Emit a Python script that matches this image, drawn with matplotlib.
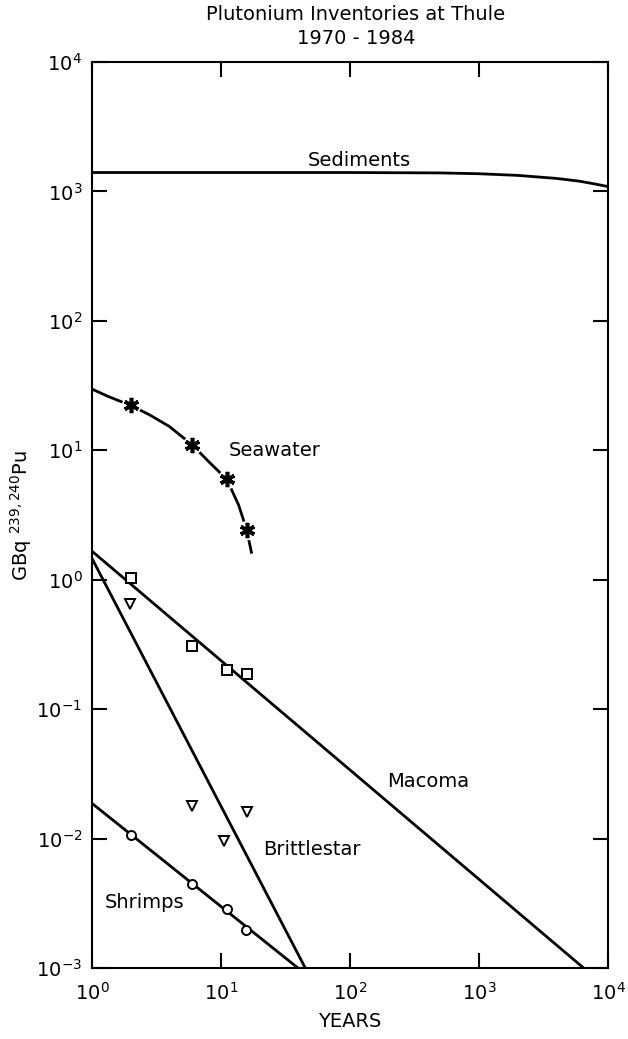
import matplotlib
matplotlib.use("Agg")
import matplotlib.pyplot as plt
import numpy as np

# ---- data ----
sed_x = [1, 100, 500, 1000, 2000, 4000, 6000, 8000, 10000]
sed_y = [1400, 1400, 1390, 1370, 1330, 1260, 1200, 1140, 1090]

sea_curve_x = [1, 1.33, 2.0, 2.79, 3.97, 5.99, 8.0, 11.1, 13.7, 15.8, 17.3]
sea_curve_y = [29.7, 26.1, 22.2, 18.8, 15.3, 11.0, 8.2, 5.96, 3.77, 2.44, 1.59]
sea_pts_x = [2.0, 5.99, 11.1, 15.8]
sea_pts_y = [22.2, 11.0, 5.96, 2.44]

macoma_pts_x = [1.99, 5.93, 11.1, 15.9]
macoma_pts_y = [1.04, 0.306, 0.20, 0.187]
macoma_line_x = [1, 6470]
macoma_line_y = [1.66, 1e-3]

brittle_pts_x = [1.96, 5.93, 10.6, 15.8]
brittle_pts_y = [0.65, 0.0178, 0.00953, 0.0161]
brittle_line_x = [1, 45]
brittle_line_y = [1.46, 1e-3]

shrimp_pts_x = [1.99, 5.93, 11.1, 15.7]
shrimp_pts_y = [0.01074, 0.00445, 0.00287, 0.00195]
shrimp_line_x = [1, 39.5]
shrimp_line_y = [0.0187, 1e-3]

title_lines = ["Plutonium Inventories at Thule", "1970 - 1984"]
xlabel = "YEARS"
ylabel = r"GBq $^{239,240}$Pu"

# ---- figure ----
plt.rcParams['font.family'] = ['DejaVu Sans']
plt.rcParams['mathtext.fontset'] = 'dejavusans'
fig = plt.figure(figsize=(6.28, 10.39), dpi=100)
ax = fig.add_axes([92/628, 1-968/1039, (608-92)/628, (968-62)/1039])
ax.set_xscale('log')
ax.set_yscale('log')
ax.set_xlim(1, 1e4)
ax.set_ylim(1e-3, 1e4)

lw = 2.0
ax.plot(sed_x, sed_y, color='black', lw=lw, zorder=2)
ax.plot(sea_curve_x, sea_curve_y, color='black', lw=lw, zorder=2,
        solid_capstyle='butt')
# white halo to break the line around the stars
ax.plot(sea_pts_x, sea_pts_y, ls='none', marker='o', ms=14, mfc='white',
        mec='none', zorder=3)
ax.plot(sea_pts_x, sea_pts_y, ls='none', marker=(6, 2, 0), ms=11, color='black',
        mew=2.6, zorder=4)
ax.plot(macoma_line_x, macoma_line_y, color='black', lw=lw, zorder=2)
ax.plot(macoma_pts_x, macoma_pts_y, ls='none', marker='s', ms=6.5,
        mfc='white', mec='black', mew=1.4, zorder=4)
ax.plot(brittle_line_x, brittle_line_y, color='black', lw=lw, zorder=2)
ax.plot(brittle_pts_x, brittle_pts_y, ls='none', marker='v', ms=7.5,
        mfc='white', mec='black', mew=1.4, zorder=4)
ax.plot(shrimp_line_x, shrimp_line_y, color='black', lw=lw, zorder=2)
ax.plot(shrimp_pts_x, shrimp_pts_y, ls='none', marker='o', ms=6.5,
        mfc='white', mec='black', mew=1.4, zorder=4)

fs = 14
ax.text(118, 1740, "Sediments", fontsize=fs, ha='center', va='center')
ax.text(11.4, 10, "Seawater", fontsize=fs, ha='left', va='center')
ax.text(194, 0.0278, "Macoma", fontsize=fs, ha='left', va='center')
ax.text(21.3, 0.0082, "Brittlestar", fontsize=fs, ha='left', va='center')
ax.text(1.26, 0.00318, "Shrimps", fontsize=fs, ha='left', va='center')

ax.minorticks_off()
ax.set_xticks([1, 10, 100, 1000, 10000])
ax.set_yticks([1e-3, 1e-2, 1e-1, 1, 10, 100, 1e3, 1e4])
ax.tick_params(which='major', direction='in', length=11, width=1.5,
               top=True, right=True, labelsize=14)
ax.tick_params(axis='x', pad=10)
ax.tick_params(axis='y', pad=7)
for s in ax.spines.values():
    s.set_linewidth(1.5)

ax.set_xlabel(xlabel, fontsize=14, labelpad=6)
ax.set_ylabel(ylabel, fontsize=14, labelpad=2)

fig.text(356/628, 1-14/1039, title_lines[0], fontsize=14, ha='center', va='center')
fig.text(356/628, 1-39/1039, title_lines[1], fontsize=14, ha='center', va='center')

fig.savefig("out.png", dpi=100)
